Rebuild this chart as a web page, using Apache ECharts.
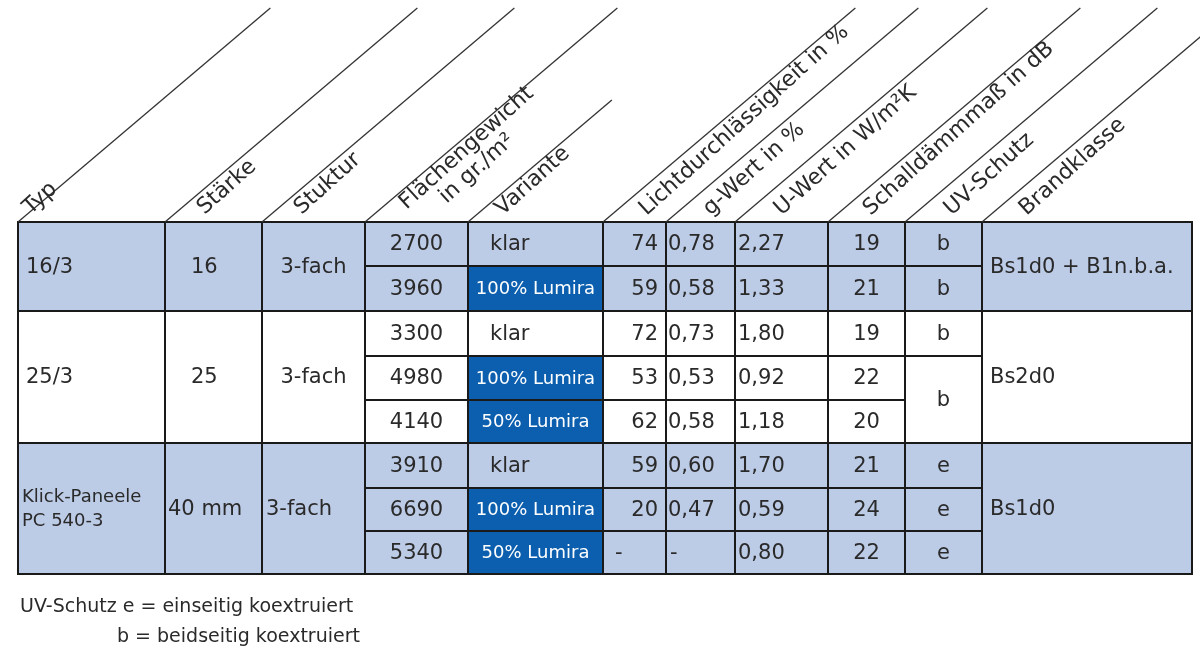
<!DOCTYPE html>
<html><head><meta charset="utf-8">
<script src="https://cdn.jsdelivr.net/npm/echarts@6/dist/echarts.min.js"></script>
<style>html,body{margin:0;padding:0;background:#fff}#c{width:1200px;height:662px}</style>
</head><body><div id="c"></div>
<script>
// ---- data ----
const headers = ['Typ','Stärke','Stuktur','Flächengewicht','in gr./m²','Variante','Lichtdurchlässigkeit in %','g-Wert in %','U-Wert in W/m²K','Schalldämmmaß in dB','UV-Schutz','Brandklasse'];
const typ = ['16/3','25/3','Klick-Paneele\nPC 540-3'];
const staerke = ['16','25','40 mm'];
const struktur = ['3-fach','3-fach','3-fach'];
const groupRows = [[0,2],[2,5],[5,8]];
const gewicht = ['2700','3960','3300','4980','4140','3910','6690','5340'];
const variante = ['klar','100% Lumira','klar','100% Lumira','50% Lumira','klar','100% Lumira','50% Lumira'];
const licht = ['74','59','72','53','62','59','20','-'];
const gwert = ['0,78','0,58','0,73','0,53','0,58','0,60','0,47','-'];
const uwert = ['2,27','1,33','1,80','0,92','1,18','1,70','0,59','0,80'];
const schall = ['19','21','19','22','20','21','24','22'];
const uv = [['b',0,1],['b',1,2],['b',2,3],['b',3,5],['e',5,6],['e',6,7],['e',7,8]];
const brand = [['Bs1d0 + B1n.b.a.',0,2],['Bs2d0',2,5],['Bs1d0',5,8]];
const footnote = ['UV-Schutz e = einseitig koextruiert','b = beidseitig koextruiert'];

// ---- layout ----
const X = [18,165,262,365,468,603,666,735,828,905,982,1192];
const Y = [222,266,311,356,400,443,488,531,574];
const LIGHT='#bccbe6', DARK='#0b5fae', WHITE='#ffffff';
const groupFill = [LIGHT, WHITE, LIGHT];
const FONT = '"DejaVu Sans", Lato, sans-serif';
function rowGroup(r){return groupRows.findIndex(g=>r>=g[0]&&r<g[1]);}

const cells = [];
function add(c0,c1,r0,r1,text,align,pad,fill,color,size){
  cells.push({x0:X[c0],x1:X[c1],y0:Y[r0],y1:Y[r1],text,align,pad,fill,color:color||'#2a2a2a',size:size||21});
}
groupRows.forEach((g,i)=>{
  const f=groupFill[i];
  add(0,1,g[0],g[1],typ[i],'left',i===2?4:8,f,null,i===2?18:21);
  add(1,2,g[0],g[1],staerke[i],'left',i===2?3:26,f);
  add(2,3,g[0],g[1],struktur[i],i===2?'left':'center',i===2?4:0,f);
});
for(let r=0;r<8;r++){
  const f=groupFill[rowGroup(r)];
  add(3,4,r,r+1,gewicht[r],'center',0,f);
  const lum=variante[r]!=='klar';
  add(4,5,r,r+1,variante[r],lum?'center':'left',lum?0:22,lum?DARK:f,lum?'#fff':null,lum?18:21);
  add(5,6,r,r+1,licht[r],licht[r]==='-'?'left':'right',licht[r]==='-'?12:8,f);
  add(6,7,r,r+1,gwert[r],'left',gwert[r]==='-'?4:2,f);
  add(7,8,r,r+1,uwert[r],'left',3,f);
  add(8,9,r,r+1,schall[r],'center',0,f);
}
uv.forEach(u=>add(9,10,u[1],u[2],u[0],'center',0,groupFill[rowGroup(u[1])]));
brand.forEach(b=>add(10,11,b[1],b[2],b[0],'left',8,groupFill[rowGroup(b[1])]));

const headPos = [[34,219],[208,219],[305,219],[410,214],[450,208],[506,220],[650,220],[714,220],[785,220],[874,220],[955,220],[1030,220]];
const lineStarts = X.slice(0,11).map((x,i)=>({x, top: i===4?100:0}));
const ANG = 42*Math.PI/180;

const chart = echarts.init(document.getElementById('c'));
chart.setOption({
  animation:false,
  backgroundColor:'#fff',
  grid:{left:0,right:0,top:0,bottom:0},
  xAxis:{type:'value',min:0,max:1200,show:false},
  yAxis:{type:'value',min:0,max:662,inverse:true,show:false},
  series:[
   {type:'custom',coordinateSystem:'cartesian2d',data:cells.map((c,i)=>[c.x0,c.y0,i]),clip:false,
    renderItem(params,api){
      const c=cells[params.dataIndex];
      const p0=api.coord([c.x0,c.y0]), p1=api.coord([c.x1,c.y1]);
      const tx = c.align==='left'?p0[0]+c.pad : c.align==='right'?p1[0]-c.pad : (p0[0]+p1[0])/2;
      return {type:'group',children:[
        {type:'rect',shape:{x:p0[0],y:p0[1],width:p1[0]-p0[0],height:p1[1]-p0[1]},
         style:{fill:c.fill,stroke:'#1a1a1a',lineWidth:2}},
        {type:'text',style:{x:tx,y:(p0[1]+p1[1])/2+1,text:c.text,textAlign:c.align,textVerticalAlign:'middle',
          fill:c.color,font:c.size+'px '+FONT,lineHeight:c.size+6}}
      ]};
    }},
   {type:'custom',coordinateSystem:'cartesian2d',data:lineStarts.map((l,i)=>[l.x,Y[0],i]),clip:false,
    renderItem(params,api){
      const l=lineStarts[params.dataIndex];
      const p=api.coord([l.x,Y[0]]);
      const top=api.coord([0,l.top===0?8:l.top])[1];
      const dy=p[1]-top, dx=dy*250/212;
      return {type:'line',shape:{x1:p[0],y1:p[1],x2:p[0]+dx,y2:top},style:{stroke:'#333',lineWidth:1.3}};
    }},
   {type:'custom',coordinateSystem:'cartesian2d',data:headers.map((h,i)=>[headPos[i][0],headPos[i][1],i]),clip:false,
    renderItem(params,api){
      const i=params.dataIndex;
      const p=api.coord([headPos[i][0],headPos[i][1]]);
      return {type:'text',x:p[0],y:p[1],rotation:ANG,
        style:{x:0,y:0,text:headers[i],textAlign:'left',textVerticalAlign:'bottom',fill:'#2a2a2a',font:'22px '+FONT}};
    }},
   {type:'custom',coordinateSystem:'cartesian2d',data:[[20,607,0],[117,637,1]],clip:false,
    renderItem(params,api){
      const d=[[20,607],[117,637]][params.dataIndex];
      const p=api.coord(d);
      return {type:'text',style:{x:p[0],y:p[1],text:footnote[params.dataIndex],textAlign:'left',textVerticalAlign:'middle',fill:'#2a2a2a',font:'19px '+FONT}};
    }}
  ]
});
</script></body></html>
